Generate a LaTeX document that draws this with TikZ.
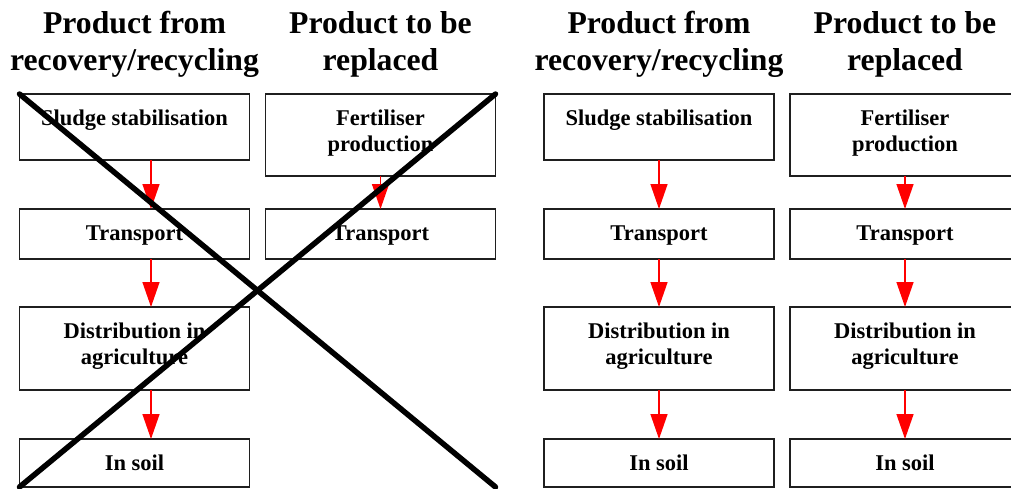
\documentclass[tikz,border=0pt]{standalone}
\usepackage{fontspec}
\setmainfont{Liberation Serif}
\usetikzlibrary{arrows.meta,calc}
% two centred lines whose baseline is that of the first line
\newcommand{\twoline}[2]{\vtop{\halign{\hfil##\hfil\cr#1\cr#2\cr}}}
\tikzset{
  stepbox/.style={draw=black!88, line width=1.3pt, minimum width=230pt,
    anchor=north west, inner sep=0pt, outer sep=0pt},
  boxtext/.style={font=\fontsize{22.5}{26.5}\selectfont\bfseries, anchor=base, inner sep=0pt},
  heading/.style={font=\fontsize{31.7}{37}\selectfont\bfseries, anchor=base, inner sep=0pt},
  flow/.style={draw=red, line width=1.4pt, -{Triangle[length=25pt,width=17pt]}},
  strike/.style={line width=5.5pt, line cap=round},
}
\begin{document}
\begin{tikzpicture}[x=1pt,y=-1pt]
\useasboundingbox (0,0) rectangle (1011,488);
\clip (0,0) rectangle (1011,488);

% ---------- left panel (struck out) ----------
\node[heading] (t1) at (134.5,33) {\twoline{Product from}{recovery/recycling}};
\node[heading] (t2) at (380.5,33) {\twoline{Product to be}{replaced}};

\node[stepbox, minimum height=66pt] (a1) at (19.5,94) {};
\node[stepbox, minimum height=50pt] (a2) at (19.5,209) {};
\node[stepbox, minimum height=83pt] (a3) at (19.5,307) {};
\node[stepbox, minimum height=48pt] (a4) at (19.5,439) {};
\node[stepbox, minimum height=82pt] (b1) at (265.5,94) {};
\node[stepbox, minimum height=50pt] (b2) at (265.5,209) {};

\node[boxtext] (a1t) at ($(a1.north)+(0,31)$) {Sludge stabilisation};
\node[boxtext] (a2t) at ($(a2.north)+(0,31)$) {Transport};
\node[boxtext] (a3t) at ($(a3.north)+(0,31)$) {\twoline{Distribution in}{agriculture}};
\node[boxtext] (a4t) at ($(a4.north)+(0,31)$) {In soil};
\node[boxtext] (b1t) at ($(b1.north)+(0,31)$) {\twoline{Fertiliser}{production}};
\node[boxtext] (b2t) at ($(b2.north)+(0,31)$) {Transport};

\coordinate (ax) at (151,0);
\draw[flow] (a1.south -| ax) -- (a2.north -| ax);
\draw[flow] (a2.south -| ax) -- (a3.north -| ax);
\draw[flow] (a3.south -| ax) -- (a4.north -| ax);
\draw[flow] (b1.south) -- (b2.north);

\draw[strike] (a1.north west) -- (b1.north east |- a4.south);
\draw[strike] (b1.north east) -- (a4.south west);

% ---------- right panel ----------
\node[heading] (t3) at (659,33) {\twoline{Product from}{recovery/recycling}};
\node[heading] (t4) at (905,33) {\twoline{Product to be}{replaced}};

\node[stepbox, minimum height=66pt] (c1) at (544,94) {};
\node[stepbox, minimum height=50pt] (c2) at (544,209) {};
\node[stepbox, minimum height=83pt] (c3) at (544,307) {};
\node[stepbox, minimum height=48pt] (c4) at (544,439) {};
\node[stepbox, minimum height=82pt] (d1) at (790,94) {};
\node[stepbox, minimum height=50pt] (d2) at (790,209) {};
\node[stepbox, minimum height=83pt] (d3) at (790,307) {};
\node[stepbox, minimum height=48pt] (d4) at (790,439) {};

\node[boxtext] (c1t) at ($(c1.north)+(0,31)$) {Sludge stabilisation};
\node[boxtext] (c2t) at ($(c2.north)+(0,31)$) {Transport};
\node[boxtext] (c3t) at ($(c3.north)+(0,31)$) {\twoline{Distribution in}{agriculture}};
\node[boxtext] (c4t) at ($(c4.north)+(0,31)$) {In soil};
\node[boxtext] (d1t) at ($(d1.north)+(0,31)$) {\twoline{Fertiliser}{production}};
\node[boxtext] (d2t) at ($(d2.north)+(0,31)$) {Transport};
\node[boxtext] (d3t) at ($(d3.north)+(0,31)$) {\twoline{Distribution in}{agriculture}};
\node[boxtext] (d4t) at ($(d4.north)+(0,31)$) {In soil};

\draw[flow] (c1.south) -- (c2.north);
\draw[flow] (c2.south) -- (c3.north);
\draw[flow] (c3.south) -- (c4.north);
\draw[flow] (d1.south) -- (d2.north);
\draw[flow] (d2.south) -- (d3.north);
\draw[flow] (d3.south) -- (d4.north);
\end{tikzpicture}
\end{document}
